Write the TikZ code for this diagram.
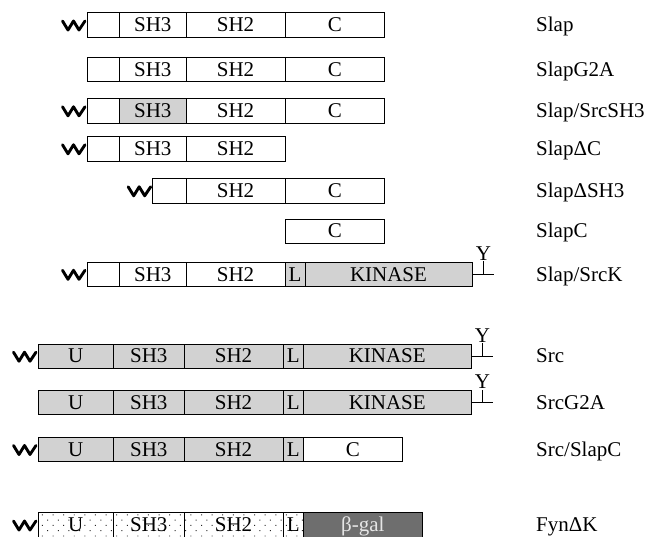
\documentclass[tikz,border=0pt]{standalone}
\usepackage{fontspec}
\setmainfont{Liberation Serif}
\usetikzlibrary{patterns.meta}
\definecolor{srcgray}{RGB}{210,210,210}
\definecolor{galgray}{RGB}{110,110,110}
\definecolor{galtext}{RGB}{230,230,230}
\newcommand\seg[6]{%
  \pgfmathsetmacro\segw{#3-#2}%
  \pgfmathsetmacro\segx{(#2+#3)/2}%
  \node[segbox,#5,minimum width=\segw pt] (#1) at (\segx,#4) {#6};}
\newcommand\wig[1]{%
  \draw[wigline] ([shift={(-24,-4)}]#1.west) -- ([shift={(-18.5,5)}]#1.west)
    -- ([shift={(-13,-4)}]#1.west) -- ([shift={(-7.5,5)}]#1.west) -- ([shift={(-1.5,-4)}]#1.west);}
\newcommand\ytail[2]{%
  \draw[line width=1pt] (#1.east) -- ++(21,0);
  \draw[line width=1pt] ([xshift=11pt]#1.east) -- ++(0,-13)
    node[anchor=south,inner sep=0.3pt,font=\fontsize{21}{24}\selectfont] (#2) {Y};}
\begin{document}
\begin{tikzpicture}[x=1pt,y=-1pt,
  segbox/.style={draw=black,line width=1pt,inner sep=0pt,minimum height=24.4pt,
    text height=13.5pt,text depth=0pt,font=\fontsize{21}{24}\selectfont},
  gr/.style={fill=srcgray},
  dk/.style={fill=galgray,text=galtext},
  dot/.style={pattern={Dots[distance=7.5pt,radius=0.7pt,angle=45]},pattern color=black!85},
  lbl/.style={anchor=west,inner sep=0pt,text height=13.5pt,text depth=0pt,
    font=\fontsize{21}{24}\selectfont},
  wigline/.style={line width=2.9pt,line join=round,line cap=round}]
\useasboundingbox (0,0) rectangle (645,536);
\clip (0,0) rectangle (645,536);
% Row 1 Slap
\seg{r1a}{87}{119.5}{25}{}{}
\seg{r1b}{119.5}{186}{25}{}{SH3}
\seg{r1c}{186}{285}{25}{}{SH2}
\seg{r1d}{285}{384.5}{25}{}{C}
\wig{r1a}
\node[lbl] (l1) at (536,25) {Slap};
% Row 2 SlapG2A
\seg{r2a}{87}{119.5}{69.5}{}{}
\seg{r2b}{119.5}{186}{69.5}{}{SH3}
\seg{r2c}{186}{285}{69.5}{}{SH2}
\seg{r2d}{285}{384.5}{69.5}{}{C}
\node[lbl] (l2) at (536,69.5) {SlapG2A};
% Row 3 Slap/SrcSH3
\seg{r3a}{87}{119.5}{110.8}{}{}
\seg{r3b}{119.5}{186}{110.8}{gr}{SH3}
\seg{r3c}{186}{285}{110.8}{}{SH2}
\seg{r3d}{285}{384.5}{110.8}{}{C}
\wig{r3a}
\node[lbl] (l3) at (536,110.8) {Slap/SrcSH3};
% Row 4 SlapDeltaC
\seg{r4a}{87}{119.5}{148.8}{}{}
\seg{r4b}{119.5}{186}{148.8}{}{SH3}
\seg{r4c}{186}{285}{148.8}{}{SH2}
\wig{r4a}
\node[lbl] (l4) at (536,148.8) {SlapΔC};
% Row 5 SlapDeltaSH3
\seg{r5a}{152.7}{186}{190.8}{}{}
\seg{r5c}{186}{285}{190.8}{}{SH2}
\seg{r5d}{285}{384.5}{190.8}{}{C}
\wig{r5a}
\node[lbl] (l5) at (536,190.8) {SlapΔSH3};
% Row 6 SlapC
\seg{r6d}{285}{384.5}{231.2}{}{C}
\node[lbl] (l6) at (536,231.2) {SlapC};
% Row 7 Slap/SrcK
\seg{r7a}{87}{119.5}{274.3}{}{}
\seg{r7b}{119.5}{186}{274.3}{}{SH3}
\seg{r7c}{186}{285}{274.3}{}{SH2}
\seg{r7l}{285}{305}{274.3}{gr}{L}
\seg{r7k}{305}{472}{274.3}{gr}{KINASE}
\wig{r7a}
\ytail{r7k}{y7}
\node[lbl] (l7) at (536,274.3) {Slap/SrcK};
% Row 8 Src
\seg{r8u}{38}{113.5}{356.2}{gr}{U}
\seg{r8b}{113.5}{184}{356.2}{gr}{SH3}
\seg{r8c}{184}{283}{356.2}{gr}{SH2}
\seg{r8l}{283}{303.5}{356.2}{gr}{L}
\seg{r8k}{303.5}{471}{356.2}{gr}{KINASE}
\wig{r8u}
\ytail{r8k}{y8}
\node[lbl] (l8) at (536,356.2) {Src};
% Row 9 SrcG2A
\seg{r9u}{38}{113.5}{402.7}{gr}{U}
\seg{r9b}{113.5}{184}{402.7}{gr}{SH3}
\seg{r9c}{184}{283}{402.7}{gr}{SH2}
\seg{r9l}{283}{303.5}{402.7}{gr}{L}
\seg{r9k}{303.5}{471}{402.7}{gr}{KINASE}
\ytail{r9k}{y9}
\node[lbl] (l9) at (536,402.7) {SrcG2A};
% Row 10 Src/SlapC
\seg{r10u}{38}{113.5}{449.5}{gr}{U}
\seg{r10b}{113.5}{184}{449.5}{gr}{SH3}
\seg{r10c}{184}{283}{449.5}{gr}{SH2}
\seg{r10l}{283}{303.5}{449.5}{gr}{L}
\seg{r10d}{303.5}{402}{449.5}{}{C}
\wig{r10u}
\node[lbl] (l10) at (536,449.5) {Src/SlapC};
% Row 11 FynDeltaK
\seg{r11u}{38}{113.5}{525}{dot}{U}
\seg{r11b}{113.5}{184}{525}{dot}{SH3}
\seg{r11c}{184}{283}{525}{dot}{SH2}
\seg{r11l}{283}{303.5}{525}{dot}{L}
\seg{r11g}{303.5}{422}{525}{dk}{β-gal}
\wig{r11u}
\node[lbl] (l11) at (536,525) {FynΔK};
\end{tikzpicture}
\end{document}
